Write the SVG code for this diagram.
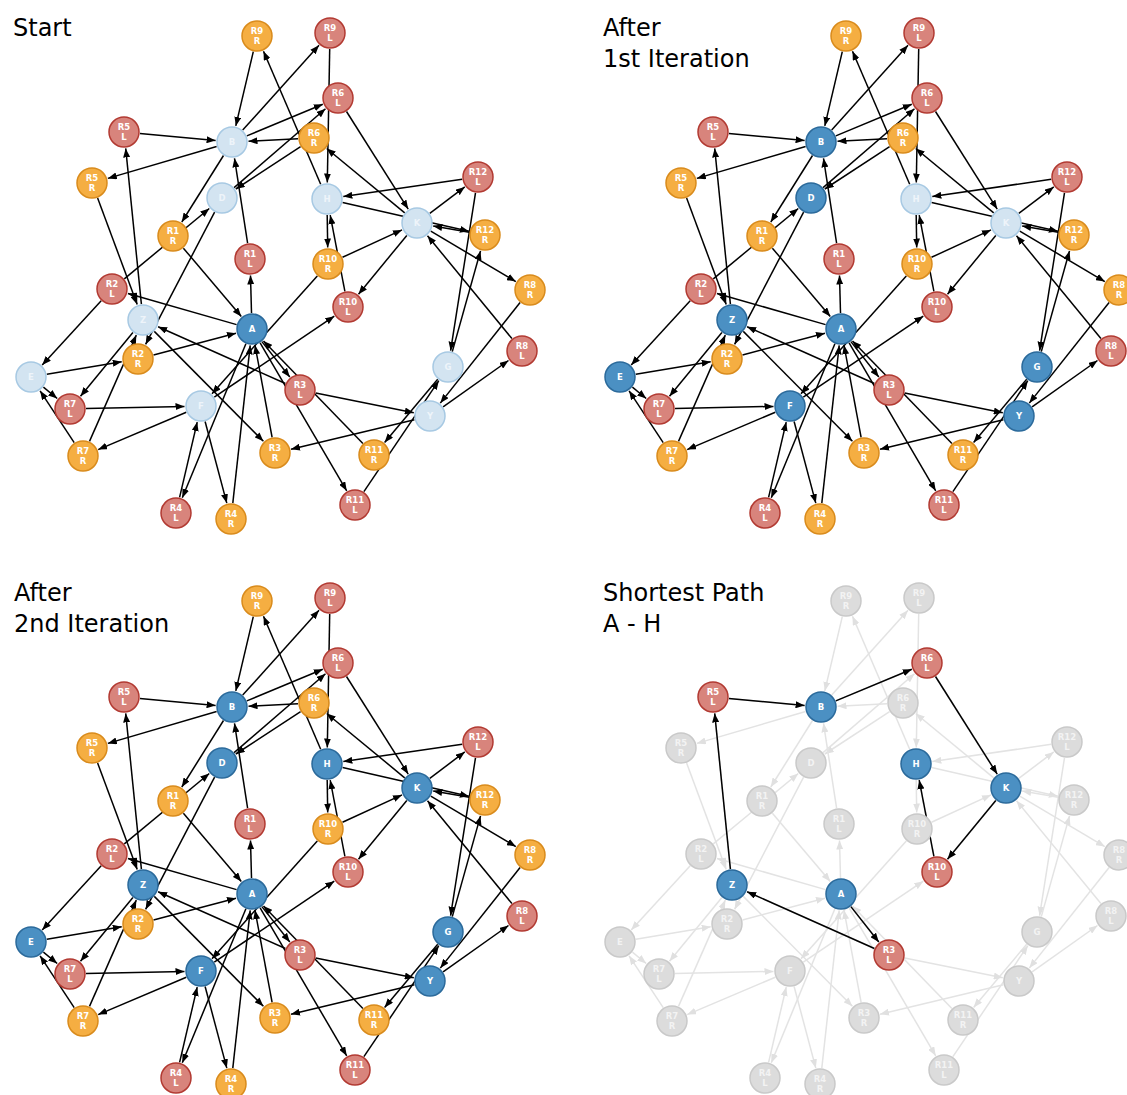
<svg xmlns="http://www.w3.org/2000/svg" width="1127" height="1095" viewBox="0 0 1127 1095">
<style>
.t{font-family:"DejaVu Sans","Liberation Sans",sans-serif;font-size:24px;fill:#000}
.n text{font-family:"DejaVu Sans","Liberation Sans",sans-serif;font-size:8.5px;font-weight:bold;fill:#fff;text-anchor:middle}
.n circle{stroke-width:1.5}
.b circle{fill:#4b90c3;stroke:#2b6a9b}
.lb circle{fill:#d3e4f1;stroke:#a7c9e3}
.lb text{fill:#eef4fa}
.r circle{fill:#d8847c;stroke:#b23a32}
.o circle{fill:#f5ae42;stroke:#d98b1c}
.g circle{fill:#dcdcdc;stroke:#c9c9c9}
.g text{fill:#f3f3f3}
</style>
<defs>
<marker id="ah" viewBox="0 0 9 7" refX="9" refY="3.5" markerWidth="9" markerHeight="7" orient="auto" markerUnits="userSpaceOnUse"><path d="M0,0L9,3.5L0,7z" fill="#000"/></marker>
<marker id="ahg" viewBox="0 0 9 7" refX="9" refY="3.5" markerWidth="9" markerHeight="7" orient="auto" markerUnits="userSpaceOnUse"><path d="M0,0L9,3.5L0,7z" fill="#e0e0e0"/></marker>
<g id="edges" fill="none">
<path d="M253.3,51.6L235.8,125.9"/>
<path d="M320.7,184.3L263.5,51.2"/>
<path d="M242.7,130.1L319.0,45.3"/>
<path d="M329.7,49.0L327.3,182.5"/>
<path d="M139.9,133.5L215.6,140.5"/>
<path d="M216.6,146.5L107.8,178.4"/>
<path d="M298.0,138.8L248.5,141.2"/>
<path d="M246.8,135.9L322.8,104.3"/>
<path d="M234.1,187.6L325.5,108.8"/>
<path d="M300.6,146.7L235.8,189.0"/>
<path d="M223.5,155.5L181.8,222.0"/>
<path d="M124.3,278.8L209.3,208.5"/>
<path d="M214.6,212.2L145.6,344.4"/>
<path d="M247.6,243.2L234.5,158.3"/>
<path d="M97.6,198.0L137.2,304.5"/>
<path d="M141.4,304.1L125.7,148.4"/>
<path d="M183.4,248.2L241.3,316.4"/>
<path d="M251.5,313.0L250.5,275.5"/>
<path d="M346.5,111.5L408.2,209.1"/>
<path d="M404.7,212.8L326.7,148.5"/>
<path d="M462.2,179.3L343.3,196.6"/>
<path d="M342.6,202.6L468.9,231.3"/>
<path d="M469.2,232.2L433.2,225.9"/>
<path d="M327.2,215.0L327.7,247.5"/>
<path d="M344.9,291.3L330.2,215.2"/>
<path d="M342.5,257.3L402.0,229.9"/>
<path d="M406.8,235.4L358.5,294.3"/>
<path d="M511.9,338.6L427.5,235.8"/>
<path d="M430.8,231.2L515.8,281.6"/>
<path d="M429.8,213.4L464.8,186.9"/>
<path d="M475.5,192.8L450.6,350.7"/>
<path d="M452.3,351.6L480.5,250.9"/>
<path d="M437.7,379.2L384.6,442.4"/>
<path d="M363.9,491.7L438.8,380.7"/>
<path d="M315.7,393.1L413.8,412.8"/>
<path d="M414.4,419.7L291.0,449.2"/>
<path d="M260.1,342.8L346.7,490.8"/>
<path d="M362.9,443.5L263.5,340.9"/>
<path d="M443.1,406.8L508.5,360.5"/>
<path d="M520.1,302.5L440.3,403.1"/>
<path d="M261.9,341.6L289.8,377.0"/>
<path d="M272.1,437.3L255.0,345.2"/>
<path d="M285.4,383.5L158.1,326.7"/>
<path d="M154.3,331.4L263.4,441.3"/>
<path d="M236.6,324.6L127.9,293.5"/>
<path d="M153.5,354.9L236.0,333.2"/>
<path d="M101.2,300.8L42.2,364.9"/>
<path d="M46.8,374.3L121.7,361.7"/>
<path d="M43.4,387.2L57.2,398.5"/>
<path d="M86.0,408.6L184.5,406.4"/>
<path d="M186.3,412.2L98.2,449.6"/>
<path d="M74.2,442.6L40.1,390.8"/>
<path d="M132.9,332.4L80.5,396.2"/>
<path d="M89.5,441.4L136.3,335.1"/>
<path d="M317.3,275.9L212.0,393.7"/>
<path d="M214.3,397.1L334.3,316.2"/>
<path d="M245.9,343.8L182.3,497.8"/>
<path d="M179.6,497.4L197.2,422.1"/>
<path d="M205.1,421.5L226.8,503.1"/>
<path d="M232.8,503.1L250.2,345.4"/>
</g>
</defs>
<rect width="1127" height="1095" fill="#fff"/>
<g id="titles">
<text class="t" x="13" y="36">Start</text>
<text class="t" x="603" y="36">After</text>
<text class="t" x="603" y="67">1st Iteration</text>
<text class="t" x="14" y="601">After</text>
<text class="t" x="14" y="632">2nd Iteration</text>
<text class="t" x="603" y="601">Shortest Path</text>
<text class="t" x="603" y="632">A - H</text>
</g>
<g id="connectors">
<g stroke="#000" stroke-width="1.5" marker-end="url(#ah)"><use href="#edges"/></g>
<g stroke="#000" stroke-width="1.5" marker-end="url(#ah)" transform="translate(589,0)"><use href="#edges"/></g>
<g stroke="#000" stroke-width="1.5" marker-end="url(#ah)" transform="translate(0,565)"><use href="#edges"/></g>
<g stroke="#e3e3e3" stroke-width="1.5" marker-end="url(#ahg)" transform="translate(589,565)"><use href="#edges"/></g>
<g id="path-AH" fill="none" stroke="#000" stroke-width="1.5" marker-end="url(#ah)" transform="translate(589,565)">
<path d="M261.9,341.6L289.8,377.0"/>
<path d="M285.4,383.5L158.1,326.7"/>
<path d="M141.4,304.1L125.7,148.4"/>
<path d="M139.9,133.5L215.6,140.5"/>
<path d="M246.8,135.9L322.8,104.3"/>
<path d="M346.5,111.5L408.2,209.1"/>
<path d="M406.8,235.4L358.5,294.3"/>
<path d="M344.9,291.3L330.2,215.2"/>
</g>
</g>
<g id="panel1">
<g id="p1-R9R" class="n o" transform="translate(257,36)"><circle r="15"/><text y="-2.2">R9</text><text y="7.8">R</text></g>
<g id="p1-R9L" class="n r" transform="translate(330,33)"><circle r="15"/><text y="-2.2">R9</text><text y="7.8">L</text></g>
<g id="p1-R5L" class="n r" transform="translate(124,132)"><circle r="15"/><text y="-2.2">R5</text><text y="7.8">L</text></g>
<g id="p1-B" class="n lb" transform="translate(232,142)"><circle r="15"/><text y="3.1">B</text></g>
<g id="p1-R6L" class="n r" transform="translate(338,98)"><circle r="15"/><text y="-2.2">R6</text><text y="7.8">L</text></g>
<g id="p1-R6R" class="n o" transform="translate(314,138)"><circle r="15"/><text y="-2.2">R6</text><text y="7.8">R</text></g>
<g id="p1-R5R" class="n o" transform="translate(92,183)"><circle r="15"/><text y="-2.2">R5</text><text y="7.8">R</text></g>
<g id="p1-D" class="n lb" transform="translate(222,198)"><circle r="15"/><text y="3.1">D</text></g>
<g id="p1-H" class="n lb" transform="translate(327,199)"><circle r="15"/><text y="3.1">H</text></g>
<g id="p1-K" class="n lb" transform="translate(417,223)"><circle r="15"/><text y="3.1">K</text></g>
<g id="p1-R12L" class="n r" transform="translate(478,177)"><circle r="15"/><text y="-2.2">R12</text><text y="7.8">L</text></g>
<g id="p1-R12R" class="n o" transform="translate(485,235)"><circle r="15"/><text y="-2.2">R12</text><text y="7.8">R</text></g>
<g id="p1-R1R" class="n o" transform="translate(173,236)"><circle r="15"/><text y="-2.2">R1</text><text y="7.8">R</text></g>
<g id="p1-R1L" class="n r" transform="translate(250,259)"><circle r="15"/><text y="-2.2">R1</text><text y="7.8">L</text></g>
<g id="p1-R10R" class="n o" transform="translate(328,264)"><circle r="15"/><text y="-2.2">R10</text><text y="7.8">R</text></g>
<g id="p1-R2L" class="n r" transform="translate(112,289)"><circle r="15"/><text y="-2.2">R2</text><text y="7.8">L</text></g>
<g id="p1-R8R" class="n o" transform="translate(530,290)"><circle r="15"/><text y="-2.2">R8</text><text y="7.8">R</text></g>
<g id="p1-R10L" class="n r" transform="translate(348,307)"><circle r="15"/><text y="-2.2">R10</text><text y="7.8">L</text></g>
<g id="p1-Z" class="n lb" transform="translate(143,320)"><circle r="15"/><text y="3.1">Z</text></g>
<g id="p1-A" class="n b" transform="translate(252,329)"><circle r="15"/><text y="3.1">A</text></g>
<g id="p1-R8L" class="n r" transform="translate(522,351)"><circle r="15"/><text y="-2.2">R8</text><text y="7.8">L</text></g>
<g id="p1-R2R" class="n o" transform="translate(138,359)"><circle r="15"/><text y="-2.2">R2</text><text y="7.8">R</text></g>
<g id="p1-G" class="n lb" transform="translate(448,367)"><circle r="15"/><text y="3.1">G</text></g>
<g id="p1-E" class="n lb" transform="translate(31,377)"><circle r="15"/><text y="3.1">E</text></g>
<g id="p1-R3L" class="n r" transform="translate(300,390)"><circle r="15"/><text y="-2.2">R3</text><text y="7.8">L</text></g>
<g id="p1-F" class="n lb" transform="translate(201,406)"><circle r="15"/><text y="3.1">F</text></g>
<g id="p1-R7L" class="n r" transform="translate(70,409)"><circle r="15"/><text y="-2.2">R7</text><text y="7.8">L</text></g>
<g id="p1-Y" class="n lb" transform="translate(430,416)"><circle r="15"/><text y="3.1">Y</text></g>
<g id="p1-R3R" class="n o" transform="translate(275,453)"><circle r="15"/><text y="-2.2">R3</text><text y="7.8">R</text></g>
<g id="p1-R11R" class="n o" transform="translate(374,455)"><circle r="15"/><text y="-2.2">R11</text><text y="7.8">R</text></g>
<g id="p1-R7R" class="n o" transform="translate(83,456)"><circle r="15"/><text y="-2.2">R7</text><text y="7.8">R</text></g>
<g id="p1-R11L" class="n r" transform="translate(355,505)"><circle r="15"/><text y="-2.2">R11</text><text y="7.8">L</text></g>
<g id="p1-R4L" class="n r" transform="translate(176,513)"><circle r="15"/><text y="-2.2">R4</text><text y="7.8">L</text></g>
<g id="p1-R4R" class="n o" transform="translate(231,519)"><circle r="15"/><text y="-2.2">R4</text><text y="7.8">R</text></g>
</g>
<g id="panel2" transform="translate(589,0)">
<g id="p2-R9R" class="n o" transform="translate(257,36)"><circle r="15"/><text y="-2.2">R9</text><text y="7.8">R</text></g>
<g id="p2-R9L" class="n r" transform="translate(330,33)"><circle r="15"/><text y="-2.2">R9</text><text y="7.8">L</text></g>
<g id="p2-R5L" class="n r" transform="translate(124,132)"><circle r="15"/><text y="-2.2">R5</text><text y="7.8">L</text></g>
<g id="p2-B" class="n b" transform="translate(232,142)"><circle r="15"/><text y="3.1">B</text></g>
<g id="p2-R6L" class="n r" transform="translate(338,98)"><circle r="15"/><text y="-2.2">R6</text><text y="7.8">L</text></g>
<g id="p2-R6R" class="n o" transform="translate(314,138)"><circle r="15"/><text y="-2.2">R6</text><text y="7.8">R</text></g>
<g id="p2-R5R" class="n o" transform="translate(92,183)"><circle r="15"/><text y="-2.2">R5</text><text y="7.8">R</text></g>
<g id="p2-D" class="n b" transform="translate(222,198)"><circle r="15"/><text y="3.1">D</text></g>
<g id="p2-H" class="n lb" transform="translate(327,199)"><circle r="15"/><text y="3.1">H</text></g>
<g id="p2-K" class="n lb" transform="translate(417,223)"><circle r="15"/><text y="3.1">K</text></g>
<g id="p2-R12L" class="n r" transform="translate(478,177)"><circle r="15"/><text y="-2.2">R12</text><text y="7.8">L</text></g>
<g id="p2-R12R" class="n o" transform="translate(485,235)"><circle r="15"/><text y="-2.2">R12</text><text y="7.8">R</text></g>
<g id="p2-R1R" class="n o" transform="translate(173,236)"><circle r="15"/><text y="-2.2">R1</text><text y="7.8">R</text></g>
<g id="p2-R1L" class="n r" transform="translate(250,259)"><circle r="15"/><text y="-2.2">R1</text><text y="7.8">L</text></g>
<g id="p2-R10R" class="n o" transform="translate(328,264)"><circle r="15"/><text y="-2.2">R10</text><text y="7.8">R</text></g>
<g id="p2-R2L" class="n r" transform="translate(112,289)"><circle r="15"/><text y="-2.2">R2</text><text y="7.8">L</text></g>
<g id="p2-R8R" class="n o" transform="translate(530,290)"><circle r="15"/><text y="-2.2">R8</text><text y="7.8">R</text></g>
<g id="p2-R10L" class="n r" transform="translate(348,307)"><circle r="15"/><text y="-2.2">R10</text><text y="7.8">L</text></g>
<g id="p2-Z" class="n b" transform="translate(143,320)"><circle r="15"/><text y="3.1">Z</text></g>
<g id="p2-A" class="n b" transform="translate(252,329)"><circle r="15"/><text y="3.1">A</text></g>
<g id="p2-R8L" class="n r" transform="translate(522,351)"><circle r="15"/><text y="-2.2">R8</text><text y="7.8">L</text></g>
<g id="p2-R2R" class="n o" transform="translate(138,359)"><circle r="15"/><text y="-2.2">R2</text><text y="7.8">R</text></g>
<g id="p2-G" class="n b" transform="translate(448,367)"><circle r="15"/><text y="3.1">G</text></g>
<g id="p2-E" class="n b" transform="translate(31,377)"><circle r="15"/><text y="3.1">E</text></g>
<g id="p2-R3L" class="n r" transform="translate(300,390)"><circle r="15"/><text y="-2.2">R3</text><text y="7.8">L</text></g>
<g id="p2-F" class="n b" transform="translate(201,406)"><circle r="15"/><text y="3.1">F</text></g>
<g id="p2-R7L" class="n r" transform="translate(70,409)"><circle r="15"/><text y="-2.2">R7</text><text y="7.8">L</text></g>
<g id="p2-Y" class="n b" transform="translate(430,416)"><circle r="15"/><text y="3.1">Y</text></g>
<g id="p2-R3R" class="n o" transform="translate(275,453)"><circle r="15"/><text y="-2.2">R3</text><text y="7.8">R</text></g>
<g id="p2-R11R" class="n o" transform="translate(374,455)"><circle r="15"/><text y="-2.2">R11</text><text y="7.8">R</text></g>
<g id="p2-R7R" class="n o" transform="translate(83,456)"><circle r="15"/><text y="-2.2">R7</text><text y="7.8">R</text></g>
<g id="p2-R11L" class="n r" transform="translate(355,505)"><circle r="15"/><text y="-2.2">R11</text><text y="7.8">L</text></g>
<g id="p2-R4L" class="n r" transform="translate(176,513)"><circle r="15"/><text y="-2.2">R4</text><text y="7.8">L</text></g>
<g id="p2-R4R" class="n o" transform="translate(231,519)"><circle r="15"/><text y="-2.2">R4</text><text y="7.8">R</text></g>
</g>
<g id="panel3" transform="translate(0,565)">
<g id="p3-R9R" class="n o" transform="translate(257,36)"><circle r="15"/><text y="-2.2">R9</text><text y="7.8">R</text></g>
<g id="p3-R9L" class="n r" transform="translate(330,33)"><circle r="15"/><text y="-2.2">R9</text><text y="7.8">L</text></g>
<g id="p3-R5L" class="n r" transform="translate(124,132)"><circle r="15"/><text y="-2.2">R5</text><text y="7.8">L</text></g>
<g id="p3-B" class="n b" transform="translate(232,142)"><circle r="15"/><text y="3.1">B</text></g>
<g id="p3-R6L" class="n r" transform="translate(338,98)"><circle r="15"/><text y="-2.2">R6</text><text y="7.8">L</text></g>
<g id="p3-R6R" class="n o" transform="translate(314,138)"><circle r="15"/><text y="-2.2">R6</text><text y="7.8">R</text></g>
<g id="p3-R5R" class="n o" transform="translate(92,183)"><circle r="15"/><text y="-2.2">R5</text><text y="7.8">R</text></g>
<g id="p3-D" class="n b" transform="translate(222,198)"><circle r="15"/><text y="3.1">D</text></g>
<g id="p3-H" class="n b" transform="translate(327,199)"><circle r="15"/><text y="3.1">H</text></g>
<g id="p3-K" class="n b" transform="translate(417,223)"><circle r="15"/><text y="3.1">K</text></g>
<g id="p3-R12L" class="n r" transform="translate(478,177)"><circle r="15"/><text y="-2.2">R12</text><text y="7.8">L</text></g>
<g id="p3-R12R" class="n o" transform="translate(485,235)"><circle r="15"/><text y="-2.2">R12</text><text y="7.8">R</text></g>
<g id="p3-R1R" class="n o" transform="translate(173,236)"><circle r="15"/><text y="-2.2">R1</text><text y="7.8">R</text></g>
<g id="p3-R1L" class="n r" transform="translate(250,259)"><circle r="15"/><text y="-2.2">R1</text><text y="7.8">L</text></g>
<g id="p3-R10R" class="n o" transform="translate(328,264)"><circle r="15"/><text y="-2.2">R10</text><text y="7.8">R</text></g>
<g id="p3-R2L" class="n r" transform="translate(112,289)"><circle r="15"/><text y="-2.2">R2</text><text y="7.8">L</text></g>
<g id="p3-R8R" class="n o" transform="translate(530,290)"><circle r="15"/><text y="-2.2">R8</text><text y="7.8">R</text></g>
<g id="p3-R10L" class="n r" transform="translate(348,307)"><circle r="15"/><text y="-2.2">R10</text><text y="7.8">L</text></g>
<g id="p3-Z" class="n b" transform="translate(143,320)"><circle r="15"/><text y="3.1">Z</text></g>
<g id="p3-A" class="n b" transform="translate(252,329)"><circle r="15"/><text y="3.1">A</text></g>
<g id="p3-R8L" class="n r" transform="translate(522,351)"><circle r="15"/><text y="-2.2">R8</text><text y="7.8">L</text></g>
<g id="p3-R2R" class="n o" transform="translate(138,359)"><circle r="15"/><text y="-2.2">R2</text><text y="7.8">R</text></g>
<g id="p3-G" class="n b" transform="translate(448,367)"><circle r="15"/><text y="3.1">G</text></g>
<g id="p3-E" class="n b" transform="translate(31,377)"><circle r="15"/><text y="3.1">E</text></g>
<g id="p3-R3L" class="n r" transform="translate(300,390)"><circle r="15"/><text y="-2.2">R3</text><text y="7.8">L</text></g>
<g id="p3-F" class="n b" transform="translate(201,406)"><circle r="15"/><text y="3.1">F</text></g>
<g id="p3-R7L" class="n r" transform="translate(70,409)"><circle r="15"/><text y="-2.2">R7</text><text y="7.8">L</text></g>
<g id="p3-Y" class="n b" transform="translate(430,416)"><circle r="15"/><text y="3.1">Y</text></g>
<g id="p3-R3R" class="n o" transform="translate(275,453)"><circle r="15"/><text y="-2.2">R3</text><text y="7.8">R</text></g>
<g id="p3-R11R" class="n o" transform="translate(374,455)"><circle r="15"/><text y="-2.2">R11</text><text y="7.8">R</text></g>
<g id="p3-R7R" class="n o" transform="translate(83,456)"><circle r="15"/><text y="-2.2">R7</text><text y="7.8">R</text></g>
<g id="p3-R11L" class="n r" transform="translate(355,505)"><circle r="15"/><text y="-2.2">R11</text><text y="7.8">L</text></g>
<g id="p3-R4L" class="n r" transform="translate(176,513)"><circle r="15"/><text y="-2.2">R4</text><text y="7.8">L</text></g>
<g id="p3-R4R" class="n o" transform="translate(231,519)"><circle r="15"/><text y="-2.2">R4</text><text y="7.8">R</text></g>
</g>
<g id="panel4" transform="translate(589,565)">
<g id="p4-R9R" class="n g" transform="translate(257,36)"><circle r="15"/><text y="-2.2">R9</text><text y="7.8">R</text></g>
<g id="p4-R9L" class="n g" transform="translate(330,33)"><circle r="15"/><text y="-2.2">R9</text><text y="7.8">L</text></g>
<g id="p4-R5L" class="n r" transform="translate(124,132)"><circle r="15"/><text y="-2.2">R5</text><text y="7.8">L</text></g>
<g id="p4-B" class="n b" transform="translate(232,142)"><circle r="15"/><text y="3.1">B</text></g>
<g id="p4-R6L" class="n r" transform="translate(338,98)"><circle r="15"/><text y="-2.2">R6</text><text y="7.8">L</text></g>
<g id="p4-R6R" class="n g" transform="translate(314,138)"><circle r="15"/><text y="-2.2">R6</text><text y="7.8">R</text></g>
<g id="p4-R5R" class="n g" transform="translate(92,183)"><circle r="15"/><text y="-2.2">R5</text><text y="7.8">R</text></g>
<g id="p4-D" class="n g" transform="translate(222,198)"><circle r="15"/><text y="3.1">D</text></g>
<g id="p4-H" class="n b" transform="translate(327,199)"><circle r="15"/><text y="3.1">H</text></g>
<g id="p4-K" class="n b" transform="translate(417,223)"><circle r="15"/><text y="3.1">K</text></g>
<g id="p4-R12L" class="n g" transform="translate(478,177)"><circle r="15"/><text y="-2.2">R12</text><text y="7.8">L</text></g>
<g id="p4-R12R" class="n g" transform="translate(485,235)"><circle r="15"/><text y="-2.2">R12</text><text y="7.8">R</text></g>
<g id="p4-R1R" class="n g" transform="translate(173,236)"><circle r="15"/><text y="-2.2">R1</text><text y="7.8">R</text></g>
<g id="p4-R1L" class="n g" transform="translate(250,259)"><circle r="15"/><text y="-2.2">R1</text><text y="7.8">L</text></g>
<g id="p4-R10R" class="n g" transform="translate(328,264)"><circle r="15"/><text y="-2.2">R10</text><text y="7.8">R</text></g>
<g id="p4-R2L" class="n g" transform="translate(112,289)"><circle r="15"/><text y="-2.2">R2</text><text y="7.8">L</text></g>
<g id="p4-R8R" class="n g" transform="translate(530,290)"><circle r="15"/><text y="-2.2">R8</text><text y="7.8">R</text></g>
<g id="p4-R10L" class="n r" transform="translate(348,307)"><circle r="15"/><text y="-2.2">R10</text><text y="7.8">L</text></g>
<g id="p4-Z" class="n b" transform="translate(143,320)"><circle r="15"/><text y="3.1">Z</text></g>
<g id="p4-A" class="n b" transform="translate(252,329)"><circle r="15"/><text y="3.1">A</text></g>
<g id="p4-R8L" class="n g" transform="translate(522,351)"><circle r="15"/><text y="-2.2">R8</text><text y="7.8">L</text></g>
<g id="p4-R2R" class="n g" transform="translate(138,359)"><circle r="15"/><text y="-2.2">R2</text><text y="7.8">R</text></g>
<g id="p4-G" class="n g" transform="translate(448,367)"><circle r="15"/><text y="3.1">G</text></g>
<g id="p4-E" class="n g" transform="translate(31,377)"><circle r="15"/><text y="3.1">E</text></g>
<g id="p4-R3L" class="n r" transform="translate(300,390)"><circle r="15"/><text y="-2.2">R3</text><text y="7.8">L</text></g>
<g id="p4-F" class="n g" transform="translate(201,406)"><circle r="15"/><text y="3.1">F</text></g>
<g id="p4-R7L" class="n g" transform="translate(70,409)"><circle r="15"/><text y="-2.2">R7</text><text y="7.8">L</text></g>
<g id="p4-Y" class="n g" transform="translate(430,416)"><circle r="15"/><text y="3.1">Y</text></g>
<g id="p4-R3R" class="n g" transform="translate(275,453)"><circle r="15"/><text y="-2.2">R3</text><text y="7.8">R</text></g>
<g id="p4-R11R" class="n g" transform="translate(374,455)"><circle r="15"/><text y="-2.2">R11</text><text y="7.8">R</text></g>
<g id="p4-R7R" class="n g" transform="translate(83,456)"><circle r="15"/><text y="-2.2">R7</text><text y="7.8">R</text></g>
<g id="p4-R11L" class="n g" transform="translate(355,505)"><circle r="15"/><text y="-2.2">R11</text><text y="7.8">L</text></g>
<g id="p4-R4L" class="n g" transform="translate(176,513)"><circle r="15"/><text y="-2.2">R4</text><text y="7.8">L</text></g>
<g id="p4-R4R" class="n g" transform="translate(231,519)"><circle r="15"/><text y="-2.2">R4</text><text y="7.8">R</text></g>
</g>
</svg>
